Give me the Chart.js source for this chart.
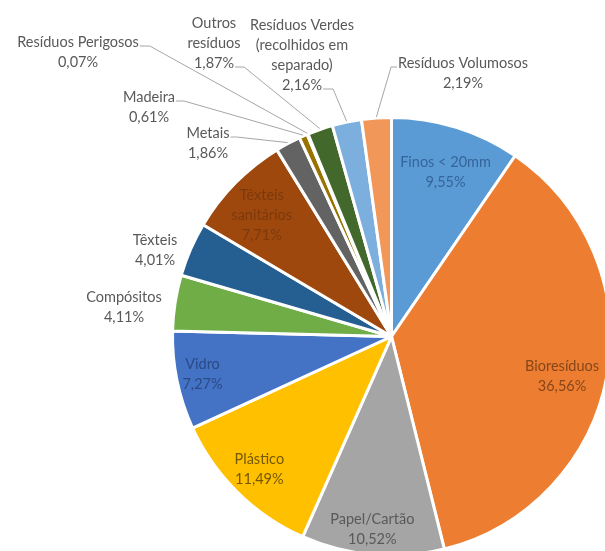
<!DOCTYPE html>
<html><head><meta charset="utf-8">
<script src="https://cdn.jsdelivr.net/npm/chart.js@4/dist/chart.umd.min.js"></script>
<style>
html,body{margin:0;padding:0;background:#fff;overflow:hidden;width:605px;height:551px}
#wrap{position:absolute;left:0;top:0;width:620px;height:570px}
</style>
</head><body><div id="wrap"><canvas id="c" width="620" height="570"></canvas></div>
<script>
// ---- data ----
const categories = ["Finos < 20mm","Bioresíduos","Papel/Cartão","Plástico","Vidro","Compósitos","Têxteis","Têxteis sanitários","Metais","Madeira","Resíduos Perigosos","Outros resíduos","Resíduos Verdes (recolhidos em separado)","Resíduos Volumosos"];
const values = [9.55,36.56,10.52,11.49,7.27,4.11,4.01,7.71,1.86,0.61,0.07,1.87,2.16,2.19];
const labelLines = [["Finos < 20mm"],["Bioresíduos"],["Papel/Cartão"],["Plástico"],["Vidro"],["Compósitos"],["Têxteis"],["Têxteis","sanitários"],["Metais"],["Madeira"],["Resíduos Perigosos"],["Outros","resíduos"],["Resíduos Verdes","(recolhidos em","separado)"],["Resíduos Volumosos"]];
const colors = ["#5B9BD5","#ED7D31","#A5A5A5","#FFC000","#4472C4","#70AD47","#255E91","#9E480E","#636363","#997300","#264478","#43682B","#7CAFDD","#F1975A"];

// ---- label styling / placement ----
const FONT = "14.5px Lato, 'Open Sans', sans-serif";
const LH = 20;
const layout = [
  {inside:true, f:0.79, da:1, color:"#35659a"},
  {inside:true, f:0.80, da:3, color:"#86461a"},
  {inside:true, f:0.885, da:0.7, color:"#595959"},
  {inside:true, f:0.855, da:0.3, color:"#765800"},
  {inside:true, f:0.88, da:0.3, color:"#2a4a86"},
  {x:124, y:297, side:"none"},
  {x:155, y:240, side:"none"},
  {inside:true, f:0.81, da:-1.6, color:"#7c3a0c"},
  {x:208, y:133, side:"right", from:0, stub:6},
  {x:149, y:97, side:"right", from:0, stub:8},
  {x:78, y:42, side:"right", from:0, stub:10},
  {x:214, y:23, side:"right", from:2, stub:9},
  {x:302, y:25, side:"right", from:3, stub:10},
  {x:463, y:63, side:"left", from:0, stub:6}
];
const pct = v => v.toFixed(2).replace(".", ",") + "%";

const labelPlugin = {
  id: "pieLabels",
  afterDatasetsDraw(chart) {
    const ctx = chart.ctx;
    const meta = chart.getDatasetMeta(0);
    ctx.save();
    ctx.font = FONT;
    ctx.textAlign = "center";
    ctx.textBaseline = "middle";
    meta.data.forEach((arc, i) => {
      const p = arc.getProps(["x","y","startAngle","endAngle","outerRadius"], true);
      const mid = (p.startAngle + p.endAngle) / 2;
      const lay = layout[i];
      const lines = labelLines[i].concat([pct(values[i])]);
      if (lay.inside) {
        const a = mid + (lay.da || 0) * Math.PI / 180;
        const r = p.outerRadius * lay.f;
        const cx = p.x + Math.cos(a) * r, cy = p.y + Math.sin(a) * r;
        const y0 = cy - (lines.length - 1) * LH / 2;
        ctx.fillStyle = lay.color;
        lines.forEach((t, k) => ctx.fillText(t, cx, y0 + k * LH));
      } else {
        ctx.fillStyle = "#595959";
        lines.forEach((t, k) => ctx.fillText(t, lay.x, lay.y + k * LH));
        if (lay.side === "none") return;
        const li = lay.from;
        const w = ctx.measureText(lines[li]).width;
        const sx = lay.side === "left" ? lay.x - w / 2 - 1 : lay.x + w / 2 + 1;
        const sy = lay.y + li * LH + 4;
        const ex = sx + (lay.side === "left" ? -lay.stub : lay.stub);
        const ax = p.x + Math.cos(mid) * (p.outerRadius + 1);
        const ay = p.y + Math.sin(mid) * (p.outerRadius + 1);
        ctx.strokeStyle = "#a6a6a6";
        ctx.lineWidth = 1;
        ctx.beginPath();
        ctx.moveTo(sx, sy);
        ctx.lineTo(ex, sy);
        ctx.lineTo(ax, ay);
        ctx.stroke();
      }
    });
    ctx.restore();
  }
};

new Chart(document.getElementById("c"), {
  type: "pie",
  data: {
    labels: categories,
    datasets: [{
      data: values,
      backgroundColor: colors,
      borderColor: "#ffffff",
      borderWidth: 3
    }]
  },
  options: {
    responsive: false,
    animation: false,
    layout: { padding: { left: 171, right: 8, top: 116, bottom: 13 } },
    plugins: { legend: { display: false }, tooltip: { enabled: false } }
  },
  plugins: [labelPlugin]
});
</script>
</body></html>
